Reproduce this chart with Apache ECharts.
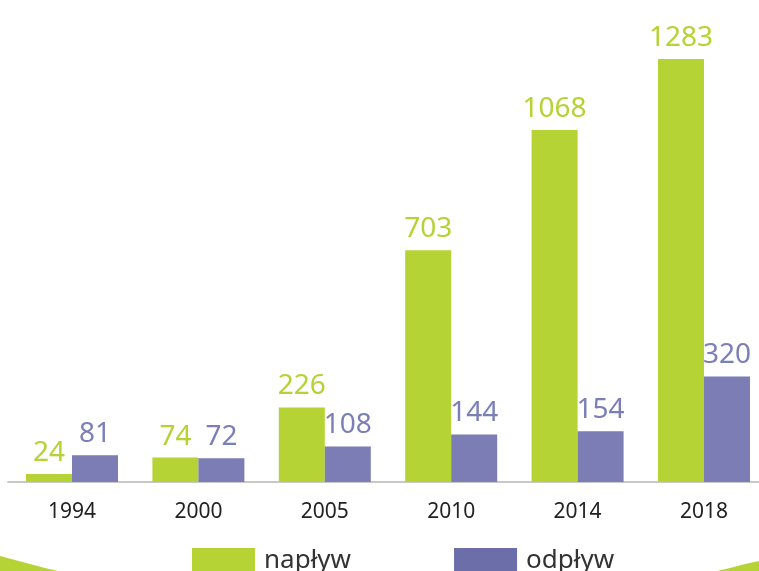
<!DOCTYPE html>
<html>
<head>
<meta charset="utf-8">
<script src="https://cdn.jsdelivr.net/npm/echarts@6/dist/echarts.min.js"></script>
<style>
  html, body { margin: 0; padding: 0; background: #fff; }
  #chart { width: 759px; height: 571px; }
</style>
</head>
<body>
<div id="chart"></div>
<script>
// lata i wartości
const years = ['1994', '2000', '2005', '2010', '2014', '2018']
const naplyw = [24, 74, 226, 703, 1068, 1283]
const odplyw = [81, 72, 108, 144, 154, 320]

const GREEN = '#b5d334'
const PURPLE = '#7b7db4'
const FONT = 'Noto Sans'
const Y_MAX = 1462

let myChart = echarts.init(document.getElementById('chart'))

const labelStyle = (color) => ({
  show: true,
  position: 'top',
  distance: 7,
  color: color,
  fontSize: 28,
  fontFamily: FONT
})

var option = {
  animation: false,
  // grid 0: słupki (środki kategorii), grid 1: tylko linia osi na całą szerokość
  grid: [
    { left: 72, right: 55, top: 0, bottom: 89 },
    { left: 8, right: 0, top: 0, bottom: 89 }
  ],
  legend: {
    bottom: -3,
    left: 192,
    padding: 0,
    icon: 'rect',
    itemWidth: 63,
    itemHeight: 26,
    itemGap: 103,
    textStyle: { fontSize: 26, color: '#333', fontFamily: FONT, padding: [0, 0, 6, 4] },
    data: [
      { name: 'napływ', itemStyle: { color: GREEN } },
      { name: 'odpływ', itemStyle: { color: '#6b6ea8' } }
    ]
  },
  xAxis: [{
    type: 'category',
    gridIndex: 0,
    data: years,
    boundaryGap: false,
    axisLine: { show: false },
    axisTick: { show: false },
    axisLabel: { fontSize: 21, color: '#222', margin: 20, fontFamily: FONT }
  }, {
    type: 'category',
    gridIndex: 1,
    data: years,
    axisLine: { lineStyle: { color: '#c8c8c8', width: 2 } },
    axisTick: { show: false },
    axisLabel: { show: false }
  }],
  yAxis: [{
    type: 'value',
    gridIndex: 0,
    min: 0,
    max: Y_MAX,
    show: false
  }, {
    type: 'value',
    gridIndex: 1,
    min: 0,
    max: Y_MAX,
    show: false
  }],
  series: [{
    name: 'napływ',
    type: 'bar',
    barWidth: 46,
    barGap: '0%',
    z: 3,
    itemStyle: { color: GREEN },
    label: labelStyle(GREEN),
    data: naplyw
  }, {
    name: 'odpływ',
    type: 'bar',
    barWidth: 46,
    z: 3,
    itemStyle: { color: PURPLE },
    label: labelStyle('#7b7fb8'),
    data: odplyw
  }],
  // zielone łuki w dolnych rogach
  graphic: [{
    type: 'polygon',
    shape: { points: [[0, 556], [15, 560], [30, 564], [45, 568], [58, 571], [0, 571]] },
    style: { fill: GREEN },
    silent: true
  }, {
    type: 'polygon',
    shape: { points: [[759, 561], [745, 564], [730, 568], [717, 571], [759, 571]] },
    style: { fill: GREEN },
    silent: true
  }]
}

myChart.setOption(option)
</script>
</body>
</html>
